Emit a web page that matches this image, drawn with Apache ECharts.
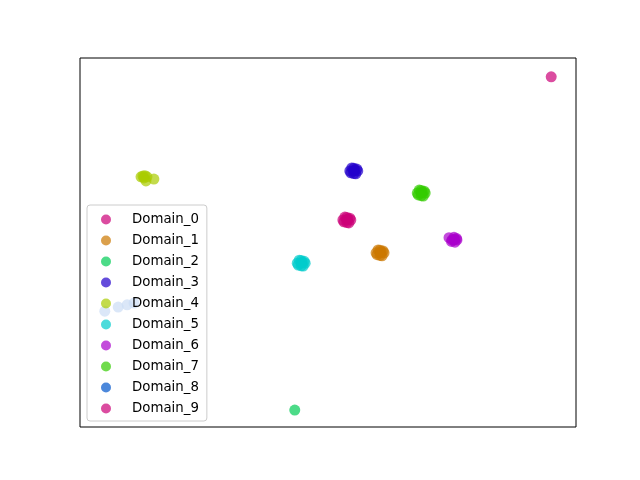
<!DOCTYPE html>
<html>
<head>
<meta charset="utf-8">
<script src="https://cdn.jsdelivr.net/npm/echarts@6/dist/echarts.min.js"></script>
<style>html,body{margin:0;padding:0;background:#fff;}#c{width:640px;height:480px;}</style>
</head>
<body>
<div id="c"></div>
<script>
const domainNames = ['Domain_0','Domain_1','Domain_2','Domain_3','Domain_4','Domain_5','Domain_6','Domain_7','Domain_8','Domain_9'];
const domainColors = ['#cc0077','#cc7700','#00cc55','#2200cc','#aacc00','#00cccc','#aa00cc','#33cc00','#0055cc','#cc0077'];

const domain0 = [[53.0,56.1],[54.6,56.1],[53.4,56.9],[54.2,55.3],[53.8,56.1],[53.2,55.6],[54.4,56.6],[54.0,56.4],[53.8,56.8],[53.8,55.4]];
const domain1 = [[59.7,47.2],[61.3,47.2],[60.1,48.0],[60.9,46.4],[60.5,47.2],[59.9,46.7],[61.1,47.7],[60.7,47.5],[60.5,47.9],[60.5,46.5]];
const domain2 = [[43.3,4.6]];
const domain3 = [[54.4,69.4],[56.0,69.4],[54.8,70.2],[55.6,68.6],[55.2,69.4],[54.6,68.9],[55.8,69.9],[55.4,69.7],[55.2,70.1],[55.2,68.7]];
const domain4 = [[12.3,67.8],[13.1,68.1],[12.9,67.5],[13.5,67.8],[12.7,68.0],[13.3,66.7],[14.9,67.2]];
const domain5 = [[43.8,44.4],[45.4,44.4],[44.2,45.2],[45.0,43.6],[44.6,44.4],[44.0,43.9],[45.2,44.9],[44.8,44.7],[44.6,45.1],[44.6,43.7]];
const domain6 = [[75.0,50.7],[76.0,50.7],[75.4,51.4],[75.6,50.1],[75.4,50.7],[74.9,50.3],[75.9,51.1],[75.5,50.9],[74.4,51.3]];
const domain7 = [[68.0,63.4],[69.6,63.4],[68.4,64.2],[69.2,62.6],[68.8,63.4],[68.2,62.9],[69.4,63.9],[69.0,63.7],[68.8,64.1],[68.8,62.7]];
const domain8 = [[5.0,31.4],[7.7,32.5],[9.5,33.1],[10.9,33.6]];
const domain9 = [[95.0,94.9]];

const domainData = [domain0,domain1,domain2,domain3,domain4,domain5,domain6,domain7,domain8,domain9];

const chart = echarts.init(document.getElementById('c'), null, {renderer:'canvas'});
chart.setOption({
  animation: false,
  backgroundColor: '#ffffff',
  grid: {left: 80, right: 64, top: 58, bottom: 53, show: true, borderColor: '#000000', borderWidth: 1, backgroundColor: 'transparent'},
  xAxis: {type: 'value', min: 0, max: 100, show: false},
  yAxis: {type: 'value', min: 0, max: 100, show: false},
  legend: {
    orient: 'vertical', left: 87, top: 205,
    padding: [8, 8, 6, 14], itemGap: 8, itemWidth: 10, itemHeight: 10,
    icon: 'circle',
    backgroundColor: 'rgba(255,255,255,0.8)', borderColor: '#cccccc', borderWidth: 1, borderRadius: 3,
    textStyle: {fontFamily: 'DejaVu Sans', fontSize: 13.33, lineHeight: 13, color: '#000000', padding: [0,0,0,16]},
    data: domainNames
  },
  series: domainNames.map((n, i) => ({
    name: n, type: 'scatter', data: domainData[i], symbolSize: 11,
    itemStyle: {color: domainColors[i], opacity: 0.7}
  }))
});
</script>
</body>
</html>
